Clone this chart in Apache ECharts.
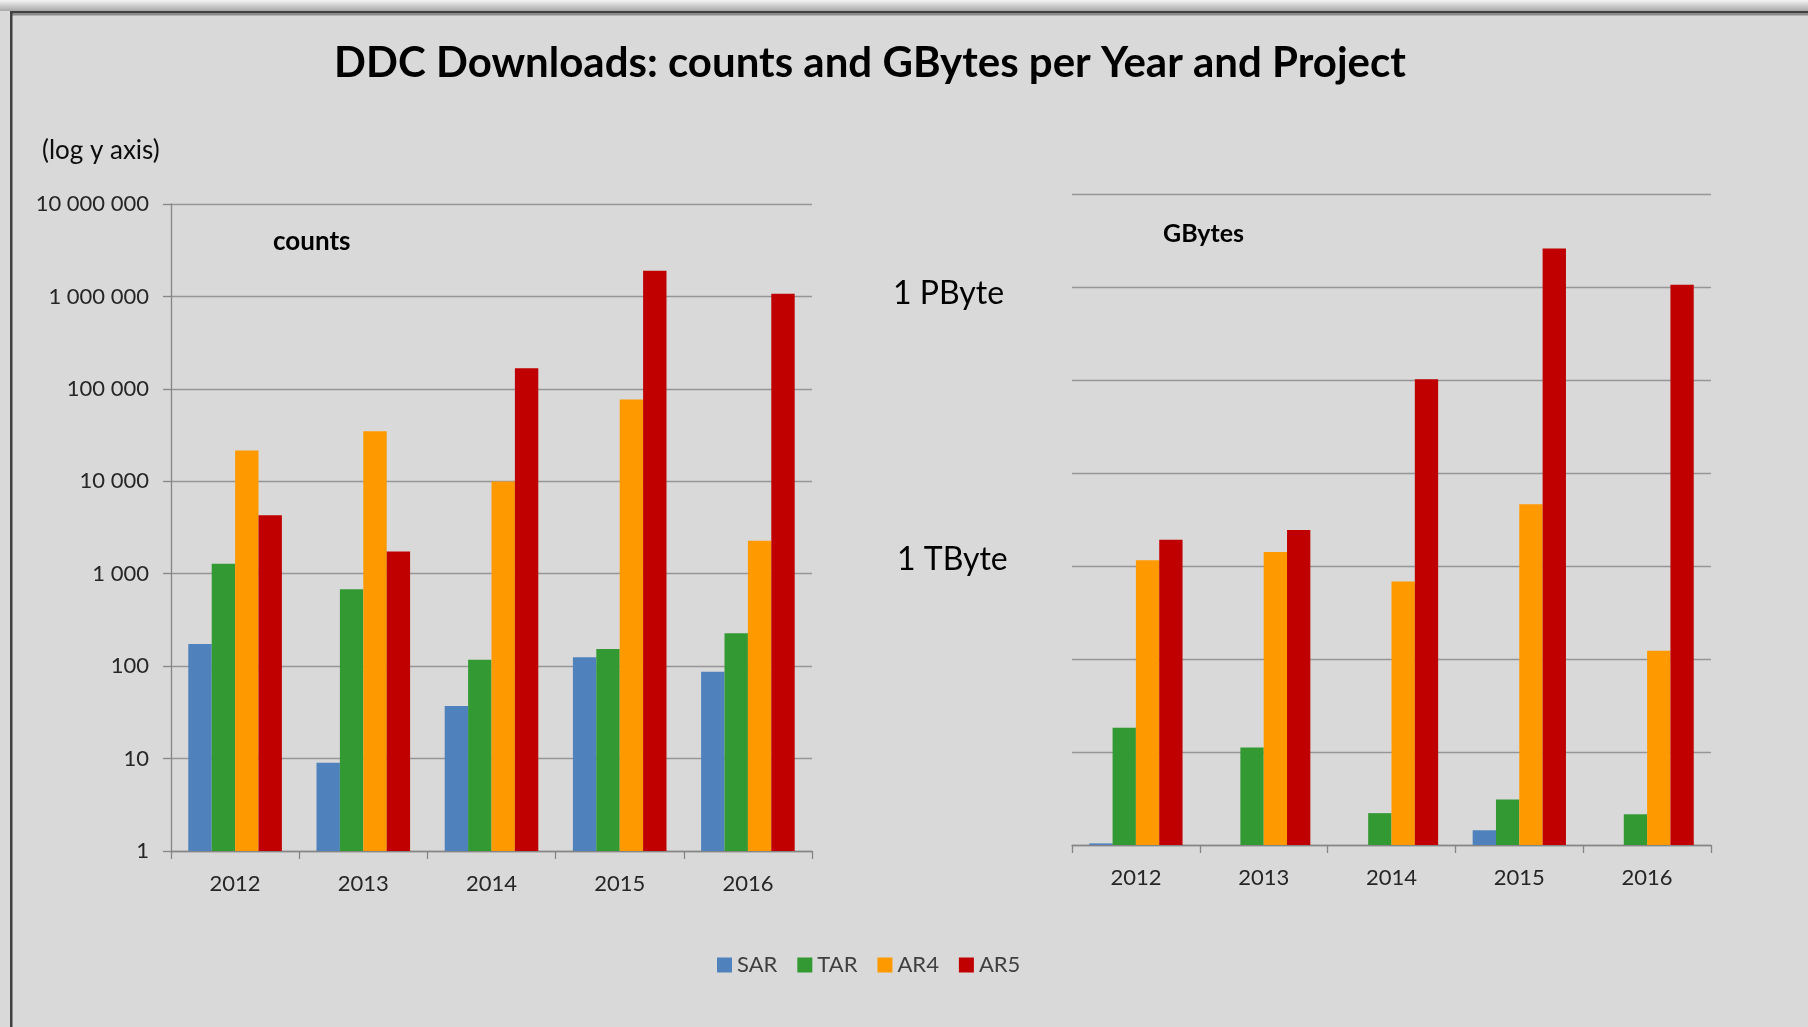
<!DOCTYPE html>
<html>
<head>
<meta charset="utf-8">
<title>DDC Downloads</title>
<script src="https://cdn.jsdelivr.net/npm/echarts@6/dist/echarts.min.js"></script>
<style>
  html, body { margin: 0; padding: 0; background: #d9d9d9; }
  #chart { width: 1808px; height: 1027px; }
</style>
</head>
<body>
<div id="chart"></div>
<script>
// categories
var years = ["2012", "2013", "2014", "2015", "2016"];
var projects = ["SAR", "TAR", "AR4", "AR5"];

// download counts (left chart)
var countsSAR = [174, 9, 37, 125, 87];
var countsTAR = [1280, 680, 117, 153, 227];
var countsAR4 = [21500, 34800, 9950, 76500, 2270];
var countsAR5 = [4300, 1740, 167000, 1900000, 1070000];

// downloaded GBytes (right chart), null = no bar
var gbSAR = [1.04, null, null, 1.44, null];
var gbTAR = [18.2, 11.2, 2.2, 3.08, 2.14];
var gbAR4 = [1150, 1410, 680, 4620, 123];
var gbAR5 = [1920, 2440, 102000, 2600000, 1060000];

// left y tick labels, one per decade
var yTickLabels = ["1", "10", "100", "1 000", "10 000", "100 000", "1 000 000", "10 000 000"];

var colors = ["#4f81bd", "#339933", "#ff9900", "#c00000"];
var font = "Lato, 'Open Sans', sans-serif";
var gridColor = "#969696";

function barSeries(name, data, idx) {
  return {
    name: name,
    type: "bar",
    xAxisIndex: idx,
    yAxisIndex: idx,
    data: data,
    barGap: "0%",
    barCategoryGap: "27%",
    itemStyle: { color: colors[projects.indexOf(name)] }
  };
}

function xAxisCfg(gridIndex) {
  return {
    type: "category",
    gridIndex: gridIndex,
    data: years,
    axisLine: { lineStyle: { color: "#868686", width: 1.3 } },
    axisTick: { show: true, length: 8, lineStyle: { color: "#868686", width: 1.3 } },
    axisLabel: { color: "#262626", fontFamily: font, fontSize: 22, margin: 22 }
  };
}

var chart = echarts.init(document.getElementById("chart"));

var option = {
  backgroundColor: "#d9d9d9",
  animation: false,
  grid: [
    { left: 171, top: 204, width: 641, height: 647 },
    { left: 1072, top: 194, width: 639, height: 651 }
  ],
  xAxis: [xAxisCfg(0), xAxisCfg(1)],
  yAxis: [
    {
      type: "log", logBase: 10, gridIndex: 0, min: 1, max: 10000000, splitNumber: 7,
      axisLine: { show: true, lineStyle: { color: "#868686", width: 1.3 } },
      axisTick: { show: true, length: 8, lineStyle: { color: "#868686", width: 1.3 } },
      splitLine: { show: true, lineStyle: { color: gridColor, width: 1.3 } },
      axisLabel: {
        color: "#262626", fontFamily: font, fontSize: 22, margin: 22,
        formatter: function (v) {
          return yTickLabels[Math.round(Math.log10(v))];
        }
      }
    },
    {
      type: "log", logBase: 10, gridIndex: 1, min: 1, max: 10000000, splitNumber: 7,
      axisLine: { show: false },
      axisTick: { show: false },
      axisLabel: { show: false },
      splitLine: { show: true, lineStyle: { color: gridColor, width: 1.3 } }
    }
  ],
  legend: {
    data: projects,
    left: 712,
    top: 949,
    itemWidth: 15,
    itemHeight: 15,
    itemGap: 20,
    icon: "rect",
    textStyle: { color: "#404040", fontFamily: font, fontSize: 22 }
  },
  series: [
    barSeries("SAR", countsSAR, 0),
    barSeries("TAR", countsTAR, 0),
    barSeries("AR4", countsAR4, 0),
    barSeries("AR5", countsAR5, 0),
    barSeries("SAR", gbSAR, 1),
    barSeries("TAR", gbTAR, 1),
    barSeries("AR4", gbAR4, 1),
    barSeries("AR5", gbAR5, 1)
  ],
  graphic: [
    // window frame
    {
      type: "rect", z: -1, silent: true,
      shape: { x: 0, y: 0, width: 1808, height: 11 },
      style: {
        fill: new echarts.graphic.LinearGradient(0, 0, 0, 1, [
          { offset: 0, color: "#f4f4f4" },
          { offset: 1, color: "#a8a8a8" }
        ])
      }
    },
    { type: "rect", silent: true, shape: { x: 10, y: 11, width: 1798, height: 2.5 }, style: { fill: "#404040" } },
    { type: "rect", silent: true, shape: { x: 12, y: 13.5, width: 1796, height: 2 }, style: { fill: "#8a8a8a" } },
    { type: "rect", silent: true, shape: { x: 10, y: 11, width: 2.5, height: 1016 }, style: { fill: "#404040" } },
    // title and notes
    {
      type: "text", x: 870, y: 63, silent: true,
      style: {
        text: "DDC Downloads: counts and GBytes per Year and Project",
        fill: "#000", font: "bold 42px " + font, textAlign: "center", textVerticalAlign: "middle"
      }
    },
    {
      type: "text", x: 42, y: 151, silent: true,
      style: { text: "(log y axis)", fill: "#0d0d0d", font: "26px " + font, textVerticalAlign: "middle" }
    },
    {
      type: "text", x: 273, y: 242, silent: true,
      style: { text: "counts", fill: "#000", font: "bold 26px " + font, textVerticalAlign: "middle" }
    },
    {
      type: "text", x: 1163, y: 234, silent: true,
      style: { text: "GBytes", fill: "#000", font: "bold 25px " + font, textVerticalAlign: "middle" }
    },
    {
      type: "text", x: 893, y: 294, silent: true,
      style: { text: "1 PByte", fill: "#000", font: "32px " + font, textVerticalAlign: "middle" }
    },
    {
      type: "text", x: 897, y: 560, silent: true,
      style: { text: "1 TByte", fill: "#000", font: "32px " + font, textVerticalAlign: "middle" }
    }
  ]
};

chart.setOption(option);
</script>
</body>
</html>
